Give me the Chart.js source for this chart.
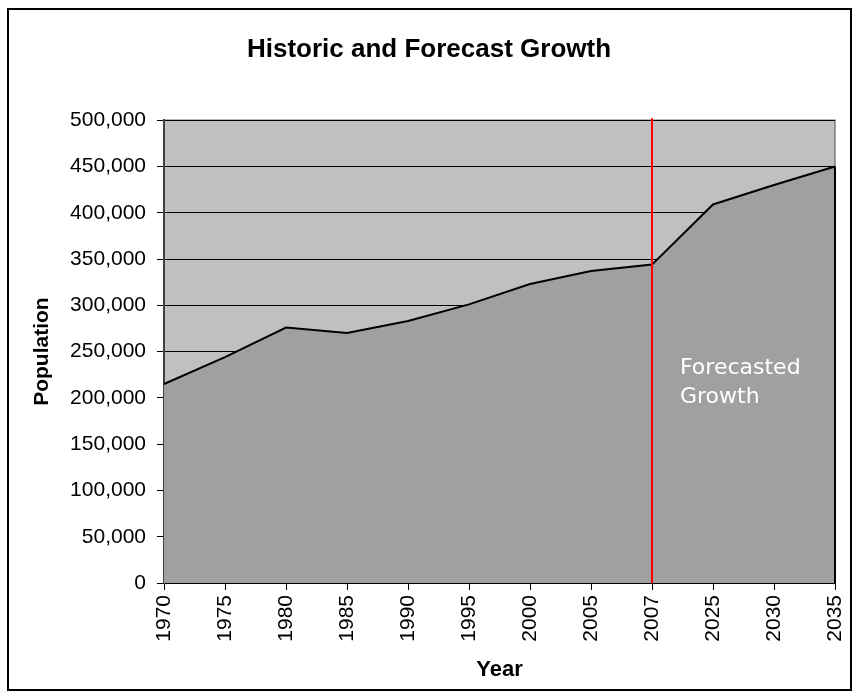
<!DOCTYPE html>
<html>
<head>
<meta charset="utf-8">
<script src="https://cdn.jsdelivr.net/npm/chart.js@4"></script>
<style>
  html, body { margin: 0; padding: 0; background: #fff; }
  #wrap { width: 858px; height: 700px; position: relative; }
</style>
</head>
<body>
<div id="wrap"><canvas id="myChart" width="858" height="700"></canvas></div>
<script>
// data
const years = ["1970", "1975", "1980", "1985", "1990", "1995", "2000", "2005", "2007", "2025", "2030", "2035"];
const population = [215000, 244000, 276000, 270000, 283000, 301000, 323000, 337000, 344000, 409000, 430000, 450000];
const forecastStart = "2007";
const forecastLabel = ["Forecasted", "Growth"];

const frame = {
    id: "frame",
    beforeDraw(chart) {
        const { ctx, chartArea: a } = chart;
        ctx.save();
        ctx.fillStyle = "#fff";
        ctx.fillRect(0, 0, chart.width, chart.height);
        ctx.strokeStyle = "#000";
        ctx.lineWidth = 2;
        ctx.strokeRect(8, 9, 843, 681);
        ctx.fillStyle = "#C0C0C0";
        ctx.fillRect(a.left, a.top, a.right - a.left, a.bottom - a.top);
        ctx.strokeStyle = "#808080";
        ctx.lineWidth = 1.5;
        ctx.strokeRect(a.left, a.top, a.right - a.left, a.bottom - a.top);
        ctx.restore();
    },
    afterDatasetsDraw(chart) {
        const { ctx, chartArea: a, scales } = chart;
        const meta = chart.getDatasetMeta(0);
        const last = meta.data[meta.data.length - 1];
        ctx.save();
        // right edge of the area
        ctx.strokeStyle = "#000";
        ctx.lineWidth = 2;
        ctx.beginPath();
        ctx.moveTo(last.x, last.y);
        ctx.lineTo(last.x, a.bottom);
        ctx.stroke();
        // forecast marker
        const x = scales.x.getPixelForValue(years.indexOf(forecastStart));
        ctx.strokeStyle = "#FF0000";
        ctx.lineWidth = 2;
        ctx.beginPath();
        ctx.moveTo(x, a.top - 2);
        ctx.lineTo(x, a.bottom);
        ctx.stroke();
        ctx.fillStyle = "#fff";
        ctx.font = "22px 'DejaVu Sans'";
        ctx.textBaseline = "alphabetic";
        ctx.fillText(forecastLabel[0], x + 28, scales.y.getPixelForValue(226000));
        ctx.fillText(forecastLabel[1], x + 28, scales.y.getPixelForValue(194000));
        ctx.restore();
    }
};

const myChartRef = document.getElementById("myChart").getContext("2d");

new Chart(myChartRef, {
    type: "line",
    data: {
        labels: years,
        datasets: [
            {
                label: "Population",
                data: population,
                fill: "origin",
                backgroundColor: "#A0A0A0",
                borderColor: "#000",
                borderWidth: 2,
                pointRadius: 0,
                tension: 0
            }
        ]
    },
    plugins: [frame],
    options: {
        responsive: false,
        animation: false,
        devicePixelRatio: 1,
        layout: { padding: { top: 0, right: 23, bottom: 0, left: 23 } },
        plugins: {
            legend: { display: false },
            tooltip: { enabled: false },
            title: {
                display: true,
                text: "Historic and Forecast Growth",
                color: "#000",
                font: { family: "Arial, 'Liberation Sans'", size: 26, weight: "bold" },
                padding: { top: 34, bottom: 55 }
            }
        },
        scales: {
            x: {
                offset: false,
                grid: { drawOnChartArea: false, drawTicks: true, tickLength: 7, tickColor: "#000", lineWidth: 1 },
                border: { color: "#000", width: 2 },
                ticks: {
                    color: "#000",
                    font: { family: "Arial, 'Liberation Sans'", size: 21 },
                    maxRotation: 90,
                    minRotation: 90,
                    autoSkip: false,
                    padding: 5
                },
                title: {
                    display: true,
                    text: "Year",
                    color: "#000",
                    font: { family: "Arial, 'Liberation Sans'", size: 22, weight: "bold" },
                    padding: { top: 0, bottom: 17 }
                },
                afterFit: s => {
                    s.height = 117;
                    s.paddingLeft = 0;
                    s.paddingRight = 0;
                }
            },
            y: {
                min: 0,
                max: 500000,
                grid: { color: "#000", lineWidth: 1, drawTicks: true, tickLength: 7, tickColor: "#000" },
                border: { color: "#404040", width: 2 },
                ticks: {
                    stepSize: 50000,
                    color: "#000",
                    font: { family: "Arial, 'Liberation Sans'", size: 21 },
                    padding: 11,
                    callback: v => v.toLocaleString("en-US")
                },
                title: {
                    display: true,
                    text: "Population",
                    color: "#000",
                    font: { family: "Arial, 'Liberation Sans'", size: 21, weight: "bold" },
                    padding: { top: 7, bottom: 0 }
                },
                afterFit: s => { s.width = 141; }
            }
        }
    }
});
</script>
</body>
</html>
